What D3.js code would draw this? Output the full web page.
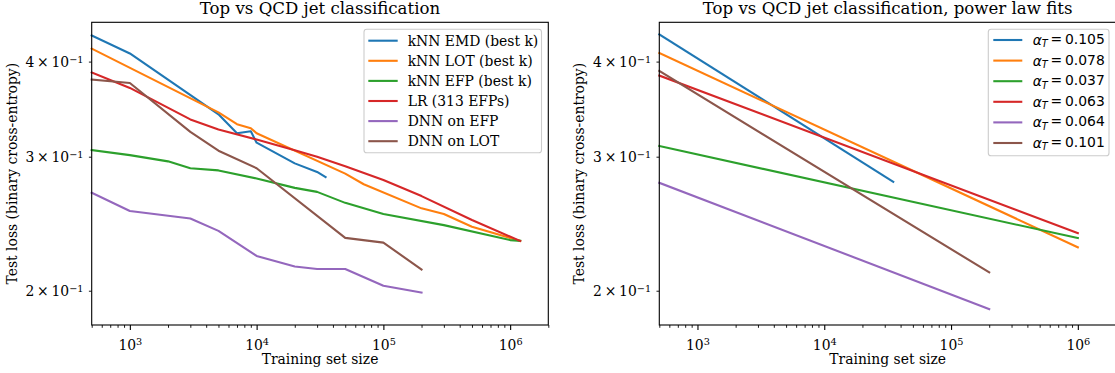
<!DOCTYPE html>
<html>
<head>
<meta charset="utf-8">
<script src="https://cdn.jsdelivr.net/npm/d3@7"></script>
<style>
body { margin: 0; background: #fff; }
svg text { font-family: "DejaVu Serif", serif; fill: #000; }
</style>
</head>
<body>
<script>
// ---- left panel: measured test loss vs training set size ----
const emdX = [500, 1000, 5000, 7000, 9000, 10000, 20000, 30000, 35000];
const emdY = [0.433, 0.410, 0.341, 0.322, 0.324, 0.313, 0.294, 0.2865, 0.282];

const lotX = [500, 5000, 7000, 9000, 10000, 50000, 70000, 200000, 300000, 500000, 1200000];
const lotY = [0.416, 0.343, 0.331, 0.327, 0.322, 0.285, 0.276, 0.2566, 0.2522, 0.2427, 0.2325];

const efpX = [500, 1000, 2000, 3000, 5000, 10000, 20000, 30000, 50000, 100000, 300000, 1000000, 1200000];
const efpY = [0.306, 0.3014, 0.2958, 0.2897, 0.2878, 0.2809, 0.273, 0.2697, 0.2609, 0.2522, 0.2439, 0.2331, 0.2326];

const lrX = [500, 1000, 3000, 5000, 10000, 20000, 30000, 50000, 100000, 200000, 500000, 1200000];
const lrY = [0.387, 0.3694, 0.3358, 0.3257, 0.316, 0.306, 0.2999, 0.2915, 0.2795, 0.2663, 0.2477, 0.2325];

const dnnEfpX = [500, 1000, 3000, 5000, 10000, 20000, 30000, 50000, 100000, 200000];
const dnnEfpY = [0.269, 0.2545, 0.2489, 0.2397, 0.2222, 0.2152, 0.2136, 0.2136, 0.203, 0.1989];

const dnnLotX = [500, 1000, 3000, 5000, 10000, 50000, 100000, 200000];
const dnnLotY = [0.3788, 0.3749, 0.3234, 0.3055, 0.2897, 0.2347, 0.2313, 0.2133];

const leftLabels = ["kNN EMD (best k)", "kNN LOT (best k)", "kNN EFP (best k)", "LR (313 EFPs)", "DNN on EFP", "DNN on LOT"];

// ---- right panel: power law fits (end points) ----
const fitAlpha = ["0.105", "0.078", "0.037", "0.063", "0.064", "0.101"];
const fitX = [[500, 35000], [500, 1e6], [500, 1e6], [500, 1e6], [500, 2e5], [500, 2e5]];
const fitY = [[0.4344, 0.278], [0.4105, 0.2281], [0.3098, 0.2345], [0.3835, 0.238], [0.2772, 0.1892], [0.3888, 0.2114]];

// axis ranges
const xDomain = [500, 2e6];
const yDomain = [0.1803, 0.4505];
const yTickVals = [0.2, 0.3, 0.4];
const yTickText = ["2", "3", "4"];

const colors = ["#1f77b4", "#ff7f0e", "#2ca02c", "#d62728", "#9467bd", "#8c564b"];

const W = 1115, H = 373;
const fs = 13.9;

let svg = d3.select('body')
	.append('svg')
	.attr("width", W)
	.attr("height", H);

function zip(xs, ys) { return xs.map((v, i) => [v, ys[i]]); }

function panel(box, title) {
	const x = d3.scaleLog().domain(xDomain).range([box.left, box.right]);
	const y = d3.scaleLog().domain(yDomain).range([box.bottom, box.top]);
	const g = svg.append("g");

	const all = x.ticks();
	const majors = all.filter(v => Math.abs(Math.log10(v) - Math.round(Math.log10(v))) < 1e-9);
	const minors = all.filter(v => !majors.includes(v));

	// minor x ticks
	g.append("g")
		.attr("transform", `translate(0,${box.bottom})`)
		.call(d3.axisBottom(x).tickValues(minors).tickSize(2.8).tickFormat(""))
		.call(a => a.select(".domain").remove())
		.call(a => a.selectAll("line").attr("stroke", "#000").attr("stroke-width", 0.9));

	// major x ticks with 10^k labels
	let xa = g.append("g")
		.attr("transform", `translate(0,${box.bottom})`)
		.call(d3.axisBottom(x).tickValues(majors).tickSize(4.9).tickFormat(""))
		.call(a => a.select(".domain").remove());
	xa.selectAll("line").attr("stroke", "#000").attr("stroke-width", 1.1);
	xa.selectAll(".tick text").remove();
	xa.selectAll(".tick").append("text")
		.attr("y", 24.5)
		.attr("text-anchor", "middle")
		.attr("font-size", fs)
		.each(function(d) {
			const t = d3.select(this);
			t.append("tspan").text("10");
			t.append("tspan").attr("dy", "-0.45em").attr("font-size", "0.7em").text(Math.round(Math.log10(d)));
		});

	// y ticks
	let ya = g.append("g")
		.attr("transform", `translate(${box.left},0)`)
		.call(d3.axisLeft(y).tickValues(yTickVals).tickSize(2.8).tickFormat(""))
		.call(a => a.select(".domain").remove());
	ya.selectAll("line").attr("stroke", "#000").attr("stroke-width", 0.9);
	ya.selectAll(".tick text").remove();
	ya.selectAll(".tick").append("text")
		.attr("x", -8.2)
		.attr("text-anchor", "end")
		.attr("font-size", fs)
		.each(function(d, i) {
			const t = d3.select(this);
			t.append("tspan").attr("dy", "0.36em").text(yTickText[i] + "\u2009\u00d7\u200910");
			t.append("tspan").attr("dy", "-0.45em").attr("font-size", "0.7em").text("\u22121");
		});

	// labels
	g.append("text")
		.attr("x", (box.left + box.right) / 2)
		.attr("y", 14)
		.attr("text-anchor", "middle")
		.attr("font-size", 16.6)
		.text(title);
	g.append("text")
		.attr("x", (box.left + box.right) / 2)
		.attr("y", 363.5)
		.attr("text-anchor", "middle")
		.attr("font-size", fs)
		.text("Training set size");
	g.append("text")
		.attr("transform", `translate(${box.left - 75},${(box.top + box.bottom) / 2}) rotate(-90)`)
		.attr("text-anchor", "middle")
		.attr("font-size", fs)
		.text("Test loss (binary cross-entropy)");

	return {x, y, g};
}

function drawLines(p, series) {
	const line = d3.line().x(d => p.x(d[0])).y(d => p.y(d[1]));
	p.g.append("g")
		.attr("fill", "none")
		.attr("stroke-width", 2.1)
		.attr("stroke-linejoin", "round")
		.attr("stroke-linecap", "square")
		.selectAll("path")
		.data(series)
		.join("path")
			.attr("stroke", (d, i) => colors[i])
			.attr("d", line);
}

function frame(box) {
	svg.append("rect")
		.attr("x", box.left).attr("y", box.top)
		.attr("width", box.right - box.left).attr("height", box.bottom - box.top)
		.attr("fill", "none").attr("stroke", "#000").attr("stroke-width", 1.1);
}

function legend(lx, ly, w, h, rowY0, step, hx0, hx1, tx, texter) {
	const lg = svg.append("g");
	lg.append("rect")
		.attr("x", lx).attr("y", ly).attr("width", w).attr("height", h)
		.attr("rx", 2.8)
		.attr("fill", "white").attr("fill-opacity", 0.8)
		.attr("stroke", "#cccccc").attr("stroke-width", 1.1);
	const row = lg.selectAll("g.row").data(colors).join("g")
		.attr("class", "row")
		.attr("transform", (d, i) => `translate(0,${rowY0 + i * step})`);
	row.append("line")
		.attr("x1", hx0).attr("x2", hx1)
		.attr("stroke", d => d).attr("stroke-width", 2.1);
	row.append("text")
		.attr("x", tx).attr("y", 5)
		.attr("font-size", fs)
		.each(texter);
}

// left panel
const boxL = {left: 91.7, right: 548.3, top: 22.3, bottom: 325};
const pL = panel(boxL, "Top vs QCD jet classification");
drawLines(pL, [zip(emdX, emdY), zip(lotX, lotY), zip(efpX, efpY), zip(lrX, lrY), zip(dnnEfpX, dnnEfpY), zip(dnnLotX, dnnLotY)]);
frame(boxL);
legend(364, 29.3, 177.5, 123.5, 40.7, 20.1, 368.3, 397.7, 407.7, function(d, i) {
	d3.select(this).text(leftLabels[i]);
});

// right panel
const boxR = {left: 659.3, right: 1116, top: 22.3, bottom: 325};
const pR = panel(boxR, "Top vs QCD jet classification, power law fits");
drawLines(pR, fitX.map((xs, i) => zip(xs, fitY[i])));
frame(boxR);
legend(988.3, 29.3, 120.7, 126.4, 40, 20.6, 993.3, 1022.3, 1032.7, function(d, i) {
	const t = d3.select(this).style("font-family", "'DejaVu Sans', sans-serif");
	t.append("tspan").attr("font-style", "italic").text("\u03b1");
	t.append("tspan").attr("font-style", "italic").attr("font-size", "0.7em").attr("dy", "0.25em").text("T");
	t.append("tspan").attr("dy", "-0.25em").text("\u2009=\u20090." + fitAlpha[i].slice(2));
});
</script>
</body>
</html>
